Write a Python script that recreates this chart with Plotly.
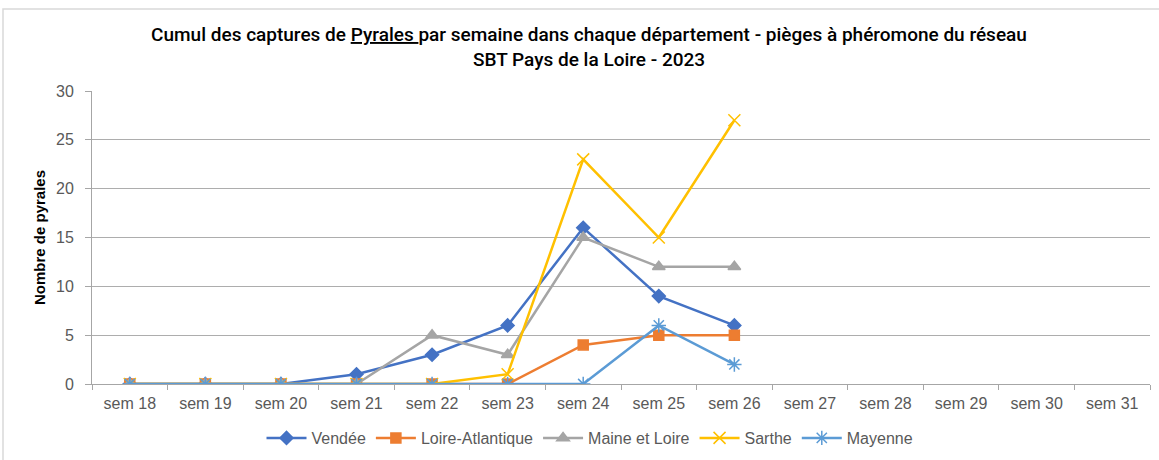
import plotly.graph_objects as go

weeks = ["sem 18", "sem 19", "sem 20", "sem 21", "sem 22", "sem 23", "sem 24",
         "sem 25", "sem 26", "sem 27", "sem 28", "sem 29", "sem 30", "sem 31"]
measured_weeks = weeks[:9]
vendee = [0, 0, 0, 1, 3, 6, 16, 9, 6]
loire_atlantique = [0, 0, 0, 0, 0, 0, 4, 5, 5]
maine_et_loire = [0, 0, 0, 0, 5, 3, 15, 12, 12]
sarthe = [0, 0, 0, 0, 0, 1, 23, 15, 27]
mayenne = [0, 0, 0, 0, 0, 0, 0, 6, 2]

series = [
    ("Vendée", vendee, "#4472C4", "diamond", 10),
    ("Loire-Atlantique", loire_atlantique, "#ED7D31", "square", 10),
    ("Maine et Loire", maine_et_loire, "#A5A5A5", "triangle-up", 11),
    ("Sarthe", sarthe, "#FFC000", "x-thin-open", 12),
    ("Mayenne", mayenne, "#5B9BD5", "asterisk-open", 12),
]

fig = go.Figure()
for name, vals, color, sym, size in series:
    fig.add_trace(go.Scatter(
        x=measured_weeks, y=vals, name=name, mode="lines+markers",
        line=dict(color=color, width=2.5),
        marker=dict(symbol=sym, size=size, color=color,
                    line=dict(color=color, width=1.5)),
    ))

L, R, T, B = 92, 9, 91, 76
W, H = 1159, 460
pw = W - L - R
ph = H - T - B

def px(x):
    return (x - L) / pw

def py(y):
    return (H - B - y) / ph

fig.update_layout(
    width=W, height=H,
    margin=dict(l=L, r=R, t=T, b=B, autoexpand=False),
    paper_bgcolor="white", plot_bgcolor="white",
    font=dict(family="Liberation Sans, Arial, sans-serif", size=15, color="#595959"),
    title=dict(
        text="Cumul des captures de <u>Pyrales </u>par semaine dans chaque département - pièges à phéromone du réseau<br>SBT Pays de la Loire - 2023",
        x=589 / W, xanchor="center", xref="container",
        yref="container", y=1 - 41 / H, yanchor="middle",
        font=dict(family="Roboto, Liberation Sans, sans-serif", size=19, color="black", weight=500),
    ),
    xaxis=dict(
        type="category", categoryorder="array", categoryarray=weeks,
        range=[-0.5, 13.5], tickmode="array", tickvals=weeks,
        tickson="boundaries", ticks="outside", ticklen=5, tickcolor="#A6A6A6",
        showline=True, linecolor="#A6A6A6", linewidth=1, automargin=False,
        ticklabelstandoff=5,
        showgrid=False, tickfont=dict(size=16, color="#595959"),
    ),
    yaxis=dict(
        range=[0, 30], dtick=5, ticks="outside", ticklen=6, tickcolor="#A6A6A6",
        showline=True, linecolor="#A6A6A6", linewidth=1, automargin=False,
        ticklabelstandoff=8,
        showgrid=True, gridcolor="#ADADAD", gridwidth=1, zeroline=False,
        tickfont=dict(size=16, color="#595959"),
        title=dict(text="<b>Nombre de pyrales</b>", standoff=6,
                   font=dict(size=15, color="black")),
    ),
    legend=dict(
        orientation="h", x=590 / W, xanchor="center", xref="container",
        yref="container", y=1 - 438 / H, yanchor="middle",
        font=dict(size=16, color="#595959"), itemwidth=40,
        bgcolor="rgba(0,0,0,0)",
    ),
    shapes=[dict(type="rect", xref="paper", yref="paper",
                 x0=px(3), x1=px(1170), y0=py(480), y1=py(9),
                 line=dict(color="#D9D9D9", width=1.5), layer="below")],
)

fig.write_html("out.html", post_script="document.body.style.margin='0';",
               config={"displayModeBar": False})
